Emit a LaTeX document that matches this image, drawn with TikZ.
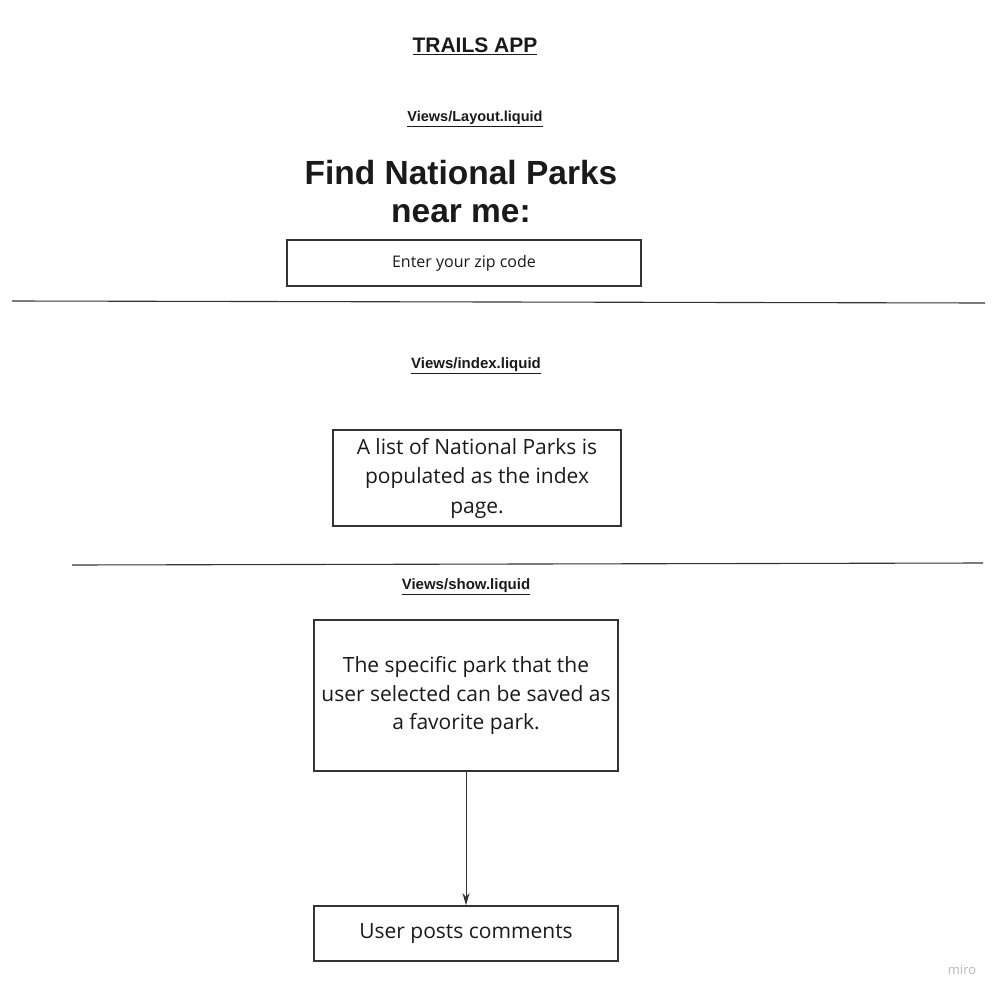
\documentclass[tikz,border=0pt]{standalone}
\usepackage{fontspec}
\setmainfont{Liberation Sans}
\newfontfamily\os{Open Sans}
\usetikzlibrary{arrows.meta}
\definecolor{boxline}{HTML}{333333}
\definecolor{txt}{HTML}{1A1A1A}
\definecolor{mirogray}{HTML}{B8B8C4}
\tikzset{
  heading/.style={font=\bfseries\fontsize{15}{18}\selectfont, text=txt, inner sep=0pt},
  pagebox/.style={draw=boxline, line width=1.8pt, inner sep=2pt, align=center, text=txt},
  sep/.style={draw=black!80, line width=1.1pt},
  conn/.style={draw=black!80, line width=0.9pt, -{Stealth[length=12pt,width=7pt]}}
}
\begin{document}
\begin{tikzpicture}[x=1pt,y=-1pt]
\useasboundingbox (0,0) rectangle (1001,998);
\fill[white] (0,0) rectangle (1001,998);

\node[heading, font=\bfseries\fontsize{21}{24}\selectfont] (title) at (475,46) {\underline{TRAILS APP}};
\node[heading, font=\bfseries\fontsize{14.5}{17}\selectfont] (lay) at (475,119) {\underline{Views/Layout.liquid}};
\node[heading, font=\bfseries\fontsize{33.5}{38}\selectfont, align=center] (find) at (461,192) {Find National Parks\\near me:};
\node[pagebox, minimum width=354pt, minimum height=46pt, font=\os\fontsize{16}{20}\selectfont] (zip) at (464,263) {Enter your zip code};

\coordinate (s1a) at (12,301);
\coordinate (s1b) at (985,303);
\draw[sep] (s1a) -- (s1b);

\node[heading] (idx) at (476,366) {\underline{Views/index.liquid}};
\node[pagebox, minimum width=288pt, minimum height=96pt, font=\os\fontsize{21}{29.5}\selectfont] (list) at (477,478) {A list of National Parks is\\populated as the index\\page.};

\coordinate (s2a) at (72,565);
\coordinate (s2b) at (983,563);
\draw[sep] (s2a) -- (s2b);

\node[heading] (show) at (466,587) {\underline{Views/show.liquid}};
\node[pagebox, minimum width=304pt, minimum height=151pt, font=\os\fontsize{21}{28.5}\selectfont] (fav) at (466,695.5) {The specific park that the\\user selected can be saved as\\a favorite park.};
\node[pagebox, minimum width=304pt, minimum height=55pt, font=\os\fontsize{21}{24}\selectfont] (comm) at (466,933.5) {User posts comments};

\draw[conn] (fav.south) -- (comm.north);

\node[text=mirogray, font=\os\fontsize{13}{15}\selectfont, inner sep=0pt] (miro) at (962,970) {miro};
\end{tikzpicture}
\end{document}
